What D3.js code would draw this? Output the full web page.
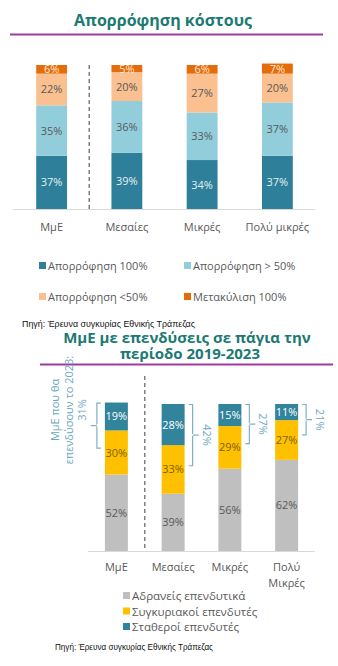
<!DOCTYPE html>
<html lang="el">
<head>
<meta charset="UTF-8">
<title>Απορρόφηση κόστους</title>
<script src="https://d3js.org/d3.v7.min.js"></script>
<style>
    body { margin: 0; background: #fff; }
    svg { display: block; font-family: "Open Sans", "Noto Sans", sans-serif; }
    .title { font-weight: bold; fill: #1c7a72; text-anchor: middle; }
    .cat { font-size: 11px; fill: #595959; text-anchor: middle; }
    .legend { font-size: 11px; fill: #595959; }
    .val { font-size: 11px; text-anchor: middle; }
    .source { font-family: "Liberation Sans Narrow", "Arial Narrow", "Liberation Sans", sans-serif; font-size: 9px; fill: #111; }
    .note { font-size: 11px; fill: #6ea8bf; }
</style>
</head>
<body>
<svg id="chart" width="338" height="666"></svg>
<script>
// Απορρόφηση κόστους
var topCats = ["ΜμΕ", "Μεσαίες", "Μικρές", "Πολύ μικρές"];
var absorb100 = [37, 39, 34, 37];
var absorbOver50 = [35, 36, 33, 37];
var absorbUnder50 = [22, 20, 27, 20];
var passOn100 = [6, 5, 6, 7];
var topKeys = ["Απορρόφηση 100%", "Απορρόφηση > 50%", "Απορρόφηση <50%", "Μετακύλιση 100%"];
var topColors = ["#2e7f99", "#92cddc", "#fac090", "#e46c0a"];
var topText = ["#e3f1f5", "#595959", "#595959", "#fde9d9"];

// ΜμΕ με επενδύσεις σε πάγια
var botCats = ["ΜμΕ", "Μεσαίες", "Μικρές", "Πολύ Μικρές"];
var dormant = [52, 39, 56, 62];
var cyclical = [30, 33, 29, 27];
var steady = [19, 28, 15, 11];
var plan2023 = [31, 42, 27, 21];
var botKeys = ["Αδρανείς επενδυτικά", "Συγκυριακοί επενδυτές", "Σταθεροί επενδυτές"];
var botColors = ["#bfbfbf", "#ffc000", "#31849b"];
var botText = ["#595959", "#7f6000", "#ffffff"];

var sourceText = "Πηγή: Έρευνα συγκυρίας Εθνικής Τράπεζας";

var svg = d3.select("#chart");

function stackRows(cats, series) {
    return cats.map(function(c, i) {
        var row = { cat: c };
        series.forEach(function(s, k) { row[k] = s[i]; });
        return row;
    });
}

function drawStack(g, rows, nSeries, x, y, colors, textColors) {
    var stacked = d3.stack().keys(d3.range(nSeries))(rows);
    var layer = g.selectAll(".layer")
        .data(stacked)
        .enter().append("g")
        .attr("fill", (d, k) => colors[k]);
    layer.selectAll("rect")
        .data(d => d)
        .enter().append("rect")
        .attr("x", d => x(d.data.cat))
        .attr("width", x.bandwidth())
        .attr("y", d => y(d[1]))
        .attr("height", d => y(d[0]) - y(d[1]));
    layer.selectAll("text")
        .data((d, k) => d.map(v => ({ v: v, k: k })))
        .enter().append("text")
        .attr("class", "val")
        .attr("fill", d => textColors[d.k])
        .attr("x", d => x(d.v.data.cat) + x.bandwidth() / 2)
        .attr("y", d => (y(d.v[0]) + y(d.v[1])) / 2 + 4)
        .text(d => (d.v[1] - d.v[0]) + "%");
    return stacked;
}

// ---------- chart 1 ----------
svg.append("text").attr("class", "title")
    .attr("x", 163).attr("y", 26).style("font-size", "16px")
    .text("Απορρόφηση κόστους");
svg.append("line")
    .attr("x1", 10).attr("x2", 323).attr("y1", 34.5).attr("y2", 34.5)
    .attr("stroke", "#9c3d9c").attr("stroke-width", 2);

var x1 = d3.scaleBand().domain(topCats).range([14, 315])
    .paddingInner(0.59).paddingOuter(0.295);
var y1 = d3.scaleLinear().domain([0, 100]).range([209, 65]);

var g1 = svg.append("g");
drawStack(g1, stackRows(topCats, [absorb100, absorbOver50, absorbUnder50, passOn100]),
    4, x1, y1, topColors, topText);

// baseline
g1.append("line")
    .attr("x1", 13).attr("x2", 315).attr("y1", y1(0) + 0.5).attr("y2", y1(0) + 0.5)
    .attr("stroke", "#d9d9d9");

// separator between total and size classes
var sep1 = (x1(topCats[0]) + x1(topCats[1]) + x1.bandwidth()) / 2;
g1.append("line")
    .attr("x1", sep1).attr("x2", sep1).attr("y1", y1(100)).attr("y2", y1(0))
    .attr("stroke", "#7f7f7f").attr("stroke-width", 1.5).attr("stroke-dasharray", "4,3");

g1.selectAll(".cat")
    .data(topCats)
    .enter().append("text")
    .attr("class", "cat")
    .attr("x", d => x1(d) + x1.bandwidth() / 2)
    .attr("y", 231)
    .text(d => d);

// legend, two columns
var leg1 = g1.selectAll(".leg1")
    .data(topKeys)
    .enter().append("g")
    .attr("transform", (d, i) => "translate(" + (i % 2 ? 184 : 39) + "," + (i < 2 ? 266 : 297) + ")");
leg1.append("rect").attr("x", 0).attr("y", -4).attr("width", 7).attr("height", 7)
    .attr("fill", (d, i) => topColors[i]);
leg1.append("text").attr("class", "legend").attr("x", 9).attr("y", 3.5).text(d => d);

svg.append("text").attr("class", "source")
    .attr("x", 22).attr("y", 327)
    .attr("textLength", 173).attr("lengthAdjust", "spacingAndGlyphs")
    .text(sourceText);

// ---------- chart 2 ----------
svg.append("text").attr("class", "title")
    .attr("x", 187).attr("y", 343).style("font-size", "15px")
    .text("ΜμΕ με επενδύσεις σε πάγια την");
svg.append("text").attr("class", "title")
    .attr("x", 190).attr("y", 359).style("font-size", "15px")
    .text("περίοδο 2019-2023");
svg.append("line")
    .attr("x1", 40).attr("x2", 333).attr("y1", 364.5).attr("y2", 364.5)
    .attr("stroke", "#9c3d9c").attr("stroke-width", 2);

var x2 = d3.scaleBand().domain(botCats).range([88, 315])
    .paddingInner(0.595).paddingOuter(0.2975);
var y2 = d3.scaleLinear().domain([0, 100]).range([551, 404]);

var g2 = svg.append("g");
var st2 = drawStack(g2, stackRows(botCats, [dormant, cyclical, steady]),
    3, x2, y2, botColors, botText);

g2.append("line")
    .attr("x1", 88).attr("x2", 315).attr("y1", y2(0) + 0.5).attr("y2", y2(0) + 0.5)
    .attr("stroke", "#d9d9d9");

var sep2 = (x2(botCats[0]) + x2(botCats[1]) + x2.bandwidth()) / 2;
g2.append("line")
    .attr("x1", sep2).attr("x2", sep2).attr("y1", 376).attr("y2", y2(0))
    .attr("stroke", "#7f7f7f").attr("stroke-width", 1.5).attr("stroke-dasharray", "4,3");

g2.selectAll(".cat")
    .data(botCats)
    .enter().append("text")
    .attr("class", "cat")
    .attr("x", d => x2(d) + x2.bandwidth() / 2)
    .attr("y", 571)
    .each(function(d) {
        var words = d.split(" ");
        var t = d3.select(this);
        if (words.length > 1) {
            words.forEach(function(w, i) {
                t.append("tspan").attr("x", t.attr("x")).attr("dy", i ? 16 : 0).text(w);
            });
        } else {
            t.text(d);
        }
    });

// brackets: investors planning for 2023
var tops = st2[2].map(d => d[1]);
botCats.forEach(function(c, i) {
    var left = i === 0;
    var yt = y2(tops[i]) + 0.5;
    var yb = y2(tops[i] - plan2023[i]);
    var ym = (yt + yb) / 2;
    var edge = left ? x2(c) : x2(c) + x2.bandwidth();
    var s = left ? -1 : 1;
    var xv = edge + s * 8;
    var hook = xv - s * 4;
    var tip = xv + s * 6;
    var p = d3.path();
    p.moveTo(hook, yt);
    p.lineTo(xv, yt);
    p.lineTo(xv, ym - 1);
    p.moveTo(xv, ym);
    p.lineTo(tip, ym);
    p.moveTo(xv, ym + 1);
    p.lineTo(xv, yb);
    p.lineTo(hook, yb);
    g2.append("path").attr("d", p.toString())
        .attr("fill", "none").attr("stroke", "#7fb1c5").attr("stroke-width", 1.2);

    if (left) {
        var lines = ["ΜμΕ που θα", "επενδύσουν το 2023:", plan2023[i] + "%"];
        g2.selectAll(".noteL")
            .data(lines)
            .enter().append("text")
            .attr("class", "note")
            .attr("text-anchor", "middle")
            .attr("transform", (d, k) => "translate(" + (59 + k * 13.5) + "," + 410 + ") rotate(-90)")
            .text(d => d);
    } else {
        g2.append("text").attr("class", "note")
            .attr("text-anchor", "middle")
            .attr("transform", "translate(" + (xv + 10) + "," + ym + ") rotate(90)")
            .text(plan2023[i] + "%");
    }
});

// legend, one column
var leg2 = g2.selectAll(".leg2")
    .data(botKeys)
    .enter().append("g")
    .attr("transform", (d, i) => "translate(123," + (596 + i * 15.5) + ")");
leg2.append("rect").attr("x", 0).attr("y", -4).attr("width", 7).attr("height", 7)
    .attr("fill", (d, i) => botColors[i]);
leg2.append("text").attr("class", "legend").style("font-size", "11.5px")
    .attr("x", 9).attr("y", 4).text(d => d);

svg.append("text").attr("class", "source")
    .attr("x", 55).attr("y", 650)
    .attr("textLength", 158).attr("lengthAdjust", "spacingAndGlyphs")
    .text(sourceText);
</script>
</body>
</html>
